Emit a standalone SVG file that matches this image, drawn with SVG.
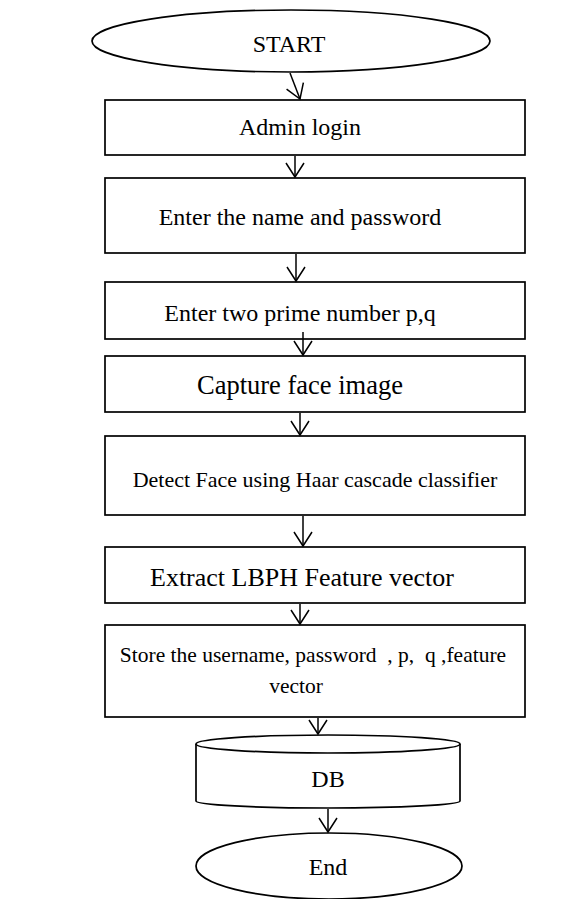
<svg xmlns="http://www.w3.org/2000/svg" width="585" height="899" viewBox="0 0 585 899">
  <style>
    .shape { fill: #ffffff; stroke: #000000; stroke-width: 1.7; }
    .link { fill: none; stroke: #000000; stroke-width: 1.5; marker-end: url(#vhead); }
    text { font-family: "Liberation Serif", "Times New Roman", serif; fill: #000000; text-anchor: middle; }
  </style>
  <defs>
    <marker id="vhead" markerUnits="userSpaceOnUse" markerWidth="18" markerHeight="22" viewBox="0 0 18 22" refX="16" refY="11" orient="auto">
      <path d="M2,2 L16,11 L2,20" fill="none" stroke="#000000" stroke-width="1.5"/>
    </marker>
  </defs>
  <rect width="585" height="899" fill="#ffffff"/>

  <g id="start">
    <ellipse class="shape" cx="291" cy="41" rx="199" ry="31"/>
    <text x="289" y="52" font-size="24">START</text>
  </g>
  <g id="admin-login">
    <rect class="shape" x="105" y="100" width="420" height="55"/>
    <text x="300" y="135" font-size="24">Admin login</text>
  </g>
  <g id="enter-credentials">
    <rect class="shape" x="105" y="178" width="420" height="75"/>
    <text x="300" y="225" font-size="24">Enter the name and password</text>
  </g>
  <g id="enter-primes">
    <rect class="shape" x="105" y="282" width="420" height="57"/>
    <text x="300" y="321" font-size="24">Enter two prime number p,q</text>
  </g>
  <g id="capture-face">
    <rect class="shape" x="105" y="356" width="420" height="56"/>
    <text x="300" y="394" font-size="26.5">Capture face image</text>
  </g>
  <g id="detect-face">
    <rect class="shape" x="105" y="436" width="420" height="79"/>
    <text x="315" y="487" font-size="22">Detect Face using Haar cascade classifier</text>
  </g>
  <g id="extract-features">
    <rect class="shape" x="105" y="547" width="420" height="56"/>
    <text x="302" y="586" font-size="26">Extract LBPH Feature vector</text>
  </g>
  <g id="store-record">
    <rect class="shape" x="105" y="625" width="420" height="92"/>
    <text x="313" y="662" font-size="21.5" xml:space="preserve">Store the username, password  , p,  q ,feature</text>
    <text x="296" y="693" font-size="21.5">vector</text>
  </g>
  <g id="database">
    <path class="shape" d="M196,744 L196,801 A132,7 0 0 0 460,801 L460,744"/>
    <ellipse class="shape" cx="328" cy="744" rx="132" ry="9"/>
    <text x="328" y="787" font-size="24">DB</text>
  </g>
  <g id="end">
    <ellipse class="shape" cx="329" cy="866" rx="133" ry="33"/>
    <text x="328" y="875" font-size="24">End</text>
  </g>

  <g id="connectors">
    <path class="link" d="M290,73 L300,99"/>
    <path class="link" d="M295,156 L295,177"/>
    <path class="link" d="M296,254 L296,281"/>
    <path class="link" d="M303,332 L303,355"/>
    <path class="link" d="M300,413 L300,435"/>
    <path class="link" d="M303,516 L303,546"/>
    <path class="link" d="M300,604 L300,624"/>
    <path class="link" d="M318,718 L318,734"/>
    <path class="link" d="M328,809 L328,832"/>
  </g>
</svg>
